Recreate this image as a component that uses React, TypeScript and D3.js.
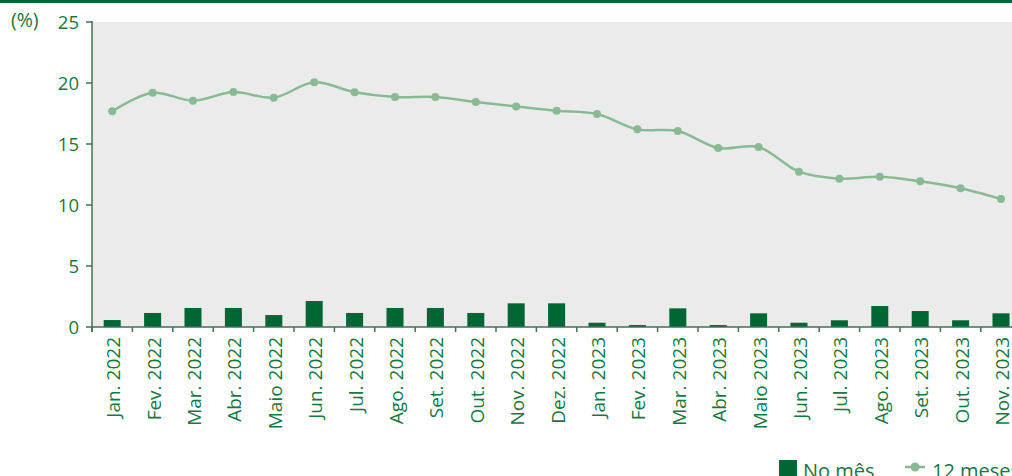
import React from "react";
import * as d3 from "d3";

const categories = [
  "Jan. 2022", "Fev. 2022", "Mar. 2022", "Abr. 2022", "Maio 2022", "Jun. 2022",
  "Jul. 2022", "Ago. 2022", "Set. 2022", "Out. 2022", "Nov. 2022", "Dez. 2022",
  "Jan. 2023", "Fev. 2023", "Mar. 2023", "Abr. 2023", "Maio 2023", "Jun. 2023",
  "Jul. 2023", "Ago. 2023", "Set. 2023", "Out. 2023", "Nov. 2023",
];
const noMes = [
  0.57, 1.15, 1.56, 1.56, 0.98, 2.13, 1.15, 1.56, 1.56, 1.15, 1.94, 1.94,
  0.35, 0.16, 1.53, 0.16, 1.12, 0.35, 0.55, 1.72, 1.31, 0.55, 1.12,
];
const dozeMeses = [
  17.68, 19.2, 18.55, 19.26, 18.8, 20.06, 19.24, 18.85, 18.85, 18.44, 18.08, 17.73,
  17.46, 16.2, 16.07, 14.67, 14.75, 12.73, 12.16, 12.32, 11.94, 11.37, 10.49,
];
const yTicks = [0, 5, 10, 15, 20, 25];
const legendLabels = ["No mês", "12 meses"];

const W = 1012;
const H = 476;
const left = 92;
const top = 22;
const bottom = 327;
const bandW = 40.4;
const right = left + bandW * categories.length;

const textColor = "#17773f";
const barColor = "#006633";
const lineColor = "#88bb94";
const axisColor = "#3f7257";
const font = "'Open Sans', 'Noto Sans', sans-serif";

export default function App() {
  const x = d3.scaleBand<string>().domain(categories).range([left, right]);
  const xc = (c: string) => (x(c) as number) + x.bandwidth() / 2;
  const y = d3.scaleLinear().domain([0, 25]).range([bottom, top]);
  const line = d3
    .line<number>()
    .x((_, i) => xc(categories[i]))
    .y((d) => y(d))
    .curve(d3.curveCatmullRom.alpha(0.5));

  return (
    <svg width={W} height={H} style={{ position: "absolute", left: 0, top: 0, display: "block" }}>
      <rect x={0} y={0} width={W} height={H} fill="#fff" />
      <rect x={0} y={0} width={W} height={3} fill={barColor} />
      <rect x={left} y={top} width={right - left} height={bottom - top} fill="#ebebeb" />
      {categories.map((c, i) => {
        const bw = 17;
        const cx = xc(c);
        return (
          <rect
            key={c}
            x={cx - bw / 2}
            y={y(noMes[i])}
            width={bw}
            height={bottom - y(noMes[i])}
            fill={barColor}
          />
        );
      })}
      <path d={line(dozeMeses) || ""} fill="none" stroke={lineColor} strokeWidth={2.5} />
      {dozeMeses.map((v, i) => (
        <circle key={i} cx={xc(categories[i])} cy={y(v)} r={4} fill={lineColor} />
      ))}
      {/* y axis */}
      <line x1={left} x2={left} y1={top - 1} y2={bottom + 5} stroke={axisColor} strokeWidth={1.5} />
      {yTicks.map((t) => (
        <g key={t}>
          <line x1={left - 6} x2={left} y1={y(t)} y2={y(t)} stroke={axisColor} strokeWidth={1.5} />
          <text x={79} y={y(t)} dy="0.36em" textAnchor="end" fill={textColor} fontSize={18.5} fontFamily={font}>
            {t}
          </text>
        </g>
      ))}
      <text x={11} y={27} fill={textColor} fontSize={19.5} fontFamily={font}>(%)</text>
      {/* x axis */}
      <line x1={left} x2={right} y1={bottom} y2={bottom} stroke={axisColor} strokeWidth={1.5} />
      {d3.range(categories.length + 1).map((i) => (
        <line key={i} x1={left + i * bandW} x2={left + i * bandW} y1={bottom} y2={bottom + 5} stroke={axisColor} strokeWidth={1.5} />
      ))}
      {categories.map((c) => (
        <text
          key={c}
          transform={`translate(${xc(c) + 8},${bottom + 10}) rotate(-90)`}
          textAnchor="end"
          fill={textColor}
          fontSize={19}
          fontFamily={font}
        >
          {c}
        </text>
      ))}
      {/* legend */}
      <rect x={779} y={460} width={18} height={16} fill={barColor} />
      <text x={803} y={478} fill={textColor} fontSize={20} fontFamily={font}>{legendLabels[0]}</text>
      <line x1={905} x2={925} y1={467} y2={467} stroke={lineColor} strokeWidth={2.5} />
      <circle cx={915} cy={467} r={4.5} fill={lineColor} />
      <text x={932} y={478} fill={textColor} fontSize={20} fontFamily={font}>{legendLabels[1]}</text>
    </svg>
  );
}
